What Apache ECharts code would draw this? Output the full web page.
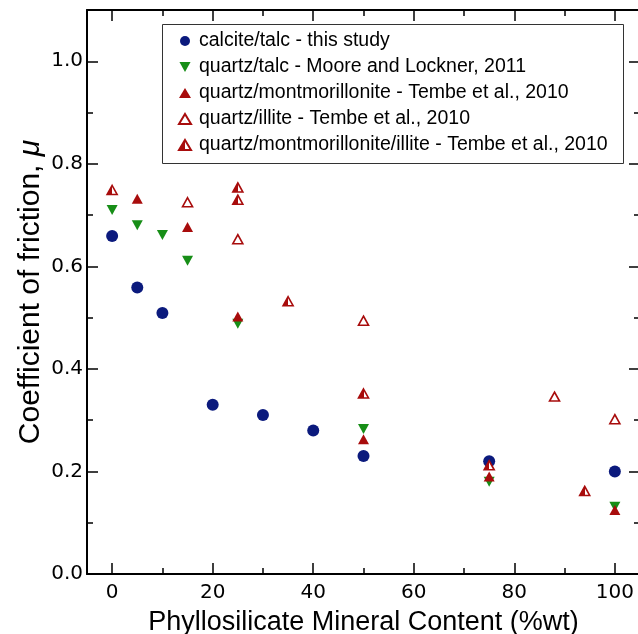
<!DOCTYPE html>
<html><head><meta charset="utf-8">
<script src="https://cdn.jsdelivr.net/npm/echarts@6/dist/echarts.min.js"></script>
<style>html,body{margin:0;padding:0;background:#fff}#c{width:638px;height:634px}</style>
</head><body><div id="c"></div>
<script>
// ---- data ----
const xMajorTicks = [0, 20, 40, 60, 80, 100];
const xMinorTicks = [10, 30, 50, 70, 90];
const yMajorTicks = [0, 0.2, 0.4, 0.6, 0.8, 1.0];
const yMinorTicks = [0.1, 0.3, 0.5, 0.7, 0.9];

const seriesNames = [
  'calcite/talc - this study',
  'quartz/talc - Moore and Lockner, 2011',
  'quartz/montmorillonite - Tembe et al., 2010',
  'quartz/illite - Tembe et al., 2010',
  'quartz/montmorillonite/illite - Tembe et al., 2010'
];
const calciteTalc = [[0,0.659],[5,0.559],[10,0.509],[20,0.33],[30,0.31],[40,0.28],[50,0.23],[75,0.22],[100,0.20]];
const quartzTalc = [[0,0.71],[5,0.68],[10,0.661],[15,0.611],[25,0.488],[50,0.283],[75,0.18],[100,0.131]];
const quartzMont = [[5,0.732],[15,0.677],[25,0.502],[50,0.263],[75,0.19],[100,0.125]];
const quartzIllite = [[15,0.725],[25,0.653],[50,0.494],[88,0.346],[100,0.302]];
const quartzMontIllite = [[0,0.749],[25,0.754],[25,0.730],[35,0.532],[50,0.352],[75,0.212],[94,0.162]];

const BLUE = '#0b1a7d', GREEN = '#178e17', RED = '#a80c0c';
const tickFont = 'DejaVu Sans';
const titleFont = 'Liberation Sans';

const chart = echarts.init(document.getElementById('c'), null, {renderer: 'canvas'});

function xAxisDef(pos, ticks, len, labels, line) {
  return {
    type: 'value', position: pos, min: -5, max: 105,
    axisLine: {show: line, onZero: false, lineStyle: {color: '#000', width: 2}},
    axisTick: {show: true, inside: true, length: len, customValues: ticks, lineStyle: {color: '#000', width: 1.5}},
    axisLabel: labels ? {show: true, customValues: ticks, color: '#000', fontFamily: tickFont, fontSize: 20, margin: 9} : {show: false},
    splitLine: {show: false}
  };
}
function yAxisDef(pos, ticks, len, labels, line) {
  return {
    type: 'value', position: pos, min: 0, max: 1.1,
    axisLine: {show: line, onZero: false, lineStyle: {color: '#000', width: 2}},
    axisTick: {show: true, inside: true, length: len, customValues: ticks, lineStyle: {color: '#000', width: 1.5}},
    axisLabel: labels ? {show: true, customValues: ticks, color: '#000', fontFamily: tickFont, fontSize: 20, margin: 4,
      formatter: v => v.toFixed(1)} : {show: false},
    splitLine: {show: false}
  };
}

const xb = xAxisDef('bottom', xMajorTicks, 11, true, true);
xb.name = 'Phyllosilicate Mineral Content (%wt)';
xb.nameLocation = 'middle';
xb.nameGap = 35;
xb.nameMoveOverlap = false;
xb.nameTextStyle = {color: '#000', fontFamily: titleFont, fontSize: 27};

const yl = yAxisDef('left', yMajorTicks, 11, true, true);
yl.name = 'Coefficient of friction, {i|μ}';
yl.nameLocation = 'middle';
yl.nameGap = 41;
yl.nameMoveOverlap = false;
yl.nameTextStyle = {color: '#000', fontFamily: titleFont, fontSize: 30,
  rich: {i: {fontStyle: 'italic', fontFamily: titleFont, fontSize: 30, color: '#000'}}};

const halfFill = {type: 'linear', x: 0, y: 0, x2: 1, y2: 0, colorStops: [
  {offset: 0, color: RED}, {offset: 0.5, color: RED}, {offset: 0.5, color: '#fff'}, {offset: 1, color: '#fff'}]};

const option = {
  backgroundColor: '#fff',
  animation: false,
  grid: {left: 87, top: 10, width: 553, height: 564, containLabel: false, outerBoundsMode: 'none'},
  xAxis: [xb, xAxisDef('bottom', xMinorTicks, 6, false, false), xAxisDef('top', xMajorTicks, 11, false, true), xAxisDef('top', xMinorTicks, 6, false, false)],
  yAxis: [yl, yAxisDef('left', yMinorTicks, 6, false, false), yAxisDef('right', yMajorTicks, 11, false, false), yAxisDef('right', yMinorTicks, 6, false, false)],
  graphic: [{type: 'rect', left: 162, top: 24, shape: {width: 461, height: 139},
    style: {fill: '#fff', stroke: '#333', lineWidth: 1}, z: 5}],
  legend: {
    orient: 'vertical', left: 178, top: 31, padding: 0, itemGap: 6,
    itemWidth: 12, itemHeight: 10, z: 10,
    textStyle: {color: '#000', fontFamily: titleFont, fontSize: 19.5, lineHeight: 20, padding: [0, 0, 0, 3]},
    data: seriesNames
  },
  series: [
    {name: seriesNames[0], type: 'scatter', data: calciteTalc, symbol: 'circle', symbolSize: 12,
      itemStyle: {color: BLUE, opacity: 1}},
    {name: seriesNames[1], type: 'scatter', data: quartzTalc, symbol: 'path://M0,0 L10,0 L5,9 Z', symbolSize: [11, 10],
      itemStyle: {color: GREEN, opacity: 1}},
    {name: seriesNames[2], type: 'scatter', data: quartzMont, symbol: 'triangle', symbolSize: [11, 10],
      itemStyle: {color: RED, opacity: 1}},
    {name: seriesNames[3], type: 'scatter', data: quartzIllite, symbol: 'triangle', symbolSize: [10, 9],
      itemStyle: {color: '#fff', borderColor: RED, borderWidth: 1.6, opacity: 1}},
    {name: seriesNames[4], type: 'scatter', data: quartzMontIllite, symbol: 'triangle', symbolSize: [10, 9],
      itemStyle: {color: halfFill, borderColor: RED, borderWidth: 1.6, opacity: 1}}
  ]
};
chart.setOption(option);
</script>
</body></html>
